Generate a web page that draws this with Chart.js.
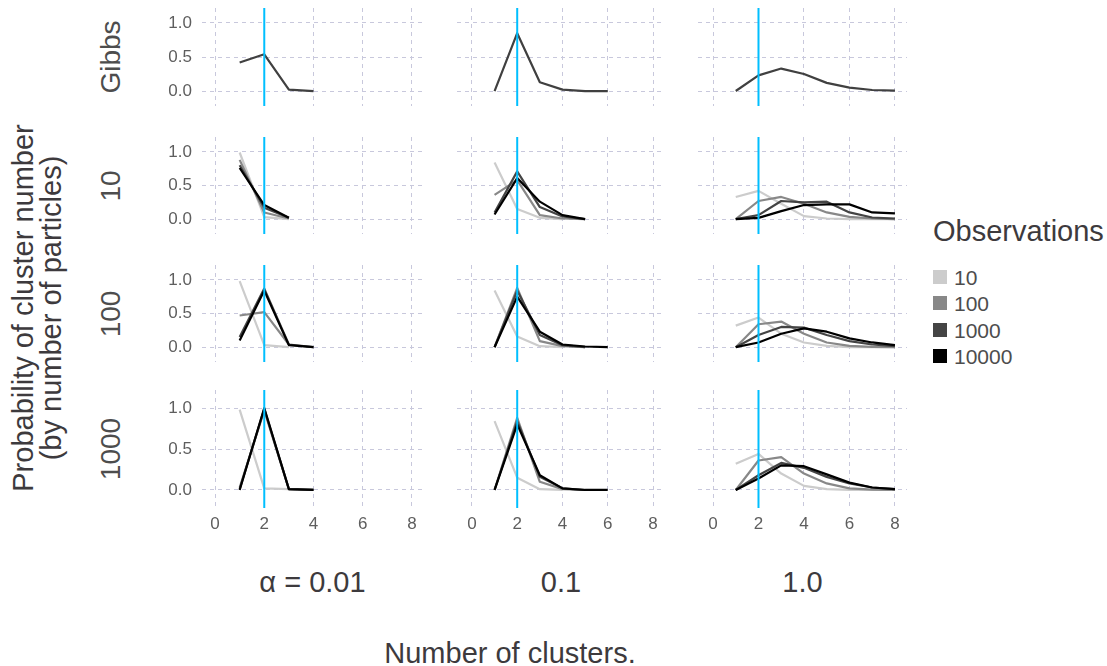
<!DOCTYPE html>
<html><head><meta charset="utf-8">
<script src="https://cdn.jsdelivr.net/npm/chart.js@4.4.0/dist/chart.umd.min.js"></script>
<style>
body{margin:0;background:#fff;}
#wrap{position:relative;width:1107px;height:666px;overflow:hidden;background:#fff;font-family:"Liberation Sans",Arial,sans-serif;}
#wrap canvas{position:absolute;}
.t{position:absolute;white-space:nowrap;line-height:1;}
</style></head><body><div id="wrap"></div>
<script>
// ---------- data ----------
const clusterCounts = [1, 2, 3, 4, 5, 6, 7, 8];
const trueClusters = 2;
const alphaLabels = ["α = 0.01", "0.1", "1.0"];
const particleLabels = ["Gibbs", "10", "100", "1000"];
const observationLabels = ["10", "100", "1000", "10000"];
const xTickValues = [0, 2, 4, 6, 8];
const yTickValues = [0, 0.5, 1.0];

// Gibbs sampler (one line per alpha)
const gibbs_a001 = [0.42, 0.54, 0.02, 0.0];
const gibbs_a01  = [0.0, 0.85, 0.13, 0.02, 0.0, 0.0];
const gibbs_a1   = [0.0, 0.23, 0.33, 0.25, 0.12, 0.05, 0.015, 0.005];

// particles = 10 ; each inner array: observations 10, 100, 1000, 10000
const p10_a001 = [[0.99, 0.03, 0.0], [0.88, 0.10, 0.01], [0.80, 0.17, 0.02], [0.76, 0.21, 0.02]];
const p10_a01  = [[0.84, 0.15, 0.02, 0.0], [0.36, 0.58, 0.06, 0.01, 0.0], [0.10, 0.71, 0.18, 0.04, 0.0], [0.07, 0.61, 0.26, 0.06, 0.0]];
const p10_a1   = [[0.33, 0.42, 0.23, 0.045, 0.01, 0.0, 0.0, 0.0], [0.0, 0.27, 0.33, 0.23, 0.10, 0.035, 0.01, 0.0], [0.0, 0.06, 0.27, 0.25, 0.26, 0.10, 0.025, 0.01], [0.0, 0.02, 0.12, 0.21, 0.22, 0.22, 0.10, 0.085]];

// particles = 100
const p100_a001 = [[0.98, 0.03, 0.0], [0.47, 0.52, 0.04], [0.15, 0.87, 0.04, 0.0], [0.10, 0.84, 0.03, 0.0]];
const p100_a01  = [[0.84, 0.16, 0.015, 0.0], [0.0, 0.88, 0.09, 0.015, 0.0], [0.0, 0.84, 0.18, 0.03, 0.0], [0.0, 0.75, 0.23, 0.04, 0.01, 0.0]];
const p100_a1   = [[0.32, 0.44, 0.20, 0.07, 0.02, 0.0, 0.0, 0.0], [0.0, 0.34, 0.38, 0.20, 0.07, 0.02, 0.005, 0.0], [0.0, 0.18, 0.30, 0.29, 0.18, 0.09, 0.04, 0.015], [0.0, 0.07, 0.20, 0.28, 0.23, 0.13, 0.07, 0.03]];

// particles = 1000
const p1000_a001 = [[0.98, 0.02, 0.01], [0.03, 0.97, 0.01, 0.0], [0.01, 0.99, 0.01, 0.0], [0.0, 1.0, 0.01, 0.0]];
const p1000_a01  = [[0.84, 0.15, 0.01, 0.0], [0.0, 0.88, 0.10, 0.01, 0.0], [0.0, 0.84, 0.16, 0.02, 0.0], [0.0, 0.80, 0.18, 0.02, 0.0, 0.0]];
const p1000_a1   = [[0.32, 0.44, 0.20, 0.05, 0.01, 0.0, 0.0, 0.0], [0.0, 0.36, 0.40, 0.20, 0.08, 0.02, 0.005, 0.0], [0.0, 0.18, 0.33, 0.27, 0.16, 0.08, 0.03, 0.01], [0.0, 0.14, 0.30, 0.29, 0.19, 0.09, 0.03, 0.01]];

// ---------- styles / layout ----------
const obsColors = ["#cccccc", "#888888", "#444444", "#000000"];
const gibbsColor = "#404040";
const vlineColor = "#00bfff";
const gridColor = "#c8c8dc";
const tickColor = "#5e5e5e";
const stripColor = "#4d4d4d";
const titleColor = "#3d3a3d";
const FONT = '"Liberation Sans", Arial, sans-serif';

const colLayout = [
  {left: 202, right: 423, min: -0.53, max: 8.45},
  {left: 457, right: 665, min: -0.66, max: 8.53},
  {left: 698, right: 907, min: -0.66, max: 8.53}
];
const rowLayout = [
  {top: 8, bottom: 106},
  {top: 137, bottom: 234},
  {top: 265, bottom: 362},
  {top: 390, bottom: 508}
];
const yMin = -0.22, yMax = 1.22;

const panelData = [
  [[gibbs_a001], [gibbs_a01], [gibbs_a1]],
  [p10_a001, p10_a01, p10_a1],
  [p100_a001, p100_a01, p100_a1],
  [p1000_a001, p1000_a01, p1000_a1]
];

const wrap = document.getElementById('wrap');

function toPoints(arr) { return arr.map((v, i) => ({x: clusterCounts[i], y: v})); }

function makePanel(r, c) {
  const col = colLayout[c], row = rowLayout[r];
  const padL = c === 0 ? 52 : 0;
  const padB = r === 3 ? 32 : 0;
  const w = col.right - col.left + padL, h = row.bottom - row.top + padB;
  const cv = document.createElement('canvas');
  cv.width = w; cv.height = h;
  cv.style.left = (col.left - padL) + 'px';
  cv.style.top = row.top + 'px';
  cv.style.width = w + 'px'; cv.style.height = h + 'px';
  wrap.appendChild(cv);

  const series = panelData[r][c];
  const datasets = [];
  datasets.push({
    data: [{x: trueClusters, y: -10}, {x: trueClusters, y: 10}],
    borderColor: vlineColor, borderWidth: 2, pointRadius: 0, order: 0, clip: 0
  });
  if (r === 0) {
    datasets.push({data: toPoints(series[0]), borderColor: gibbsColor, borderWidth: 2.2, pointRadius: 0, order: 1});
  } else {
    series.forEach((s, k) => {
      datasets.push({data: toPoints(s), borderColor: obsColors[k], borderWidth: 2.2, pointRadius: 0, order: 5 - k});
    });
  }

  new Chart(cv, {
    type: 'line',
    data: {datasets},
    options: {
      responsive: false, animation: false, devicePixelRatio: 1,
      layout: {padding: 0},
      plugins: {legend: {display: false}, tooltip: {enabled: false}},
      elements: {point: {radius: 0}, line: {tension: 0, borderCapStyle: 'butt', borderJoinStyle: 'round'}},
      scales: {
        x: {
          type: 'linear', min: col.min, max: col.max,
          afterBuildTicks: s => { s.ticks = xTickValues.map(v => ({value: v})); },
          afterFit: s => { s.height = padB; s.paddingLeft = 0; s.paddingRight = 0; s.paddingTop = 0; s.paddingBottom = 0; },
          grid: {color: gridColor, lineWidth: 1, drawTicks: false},
          border: {display: false, dash: [4, 4]},
          ticks: {display: r === 3, color: tickColor, font: {family: FONT, size: 17}, padding: 6,
                  maxRotation: 0, autoSkip: false, callback: v => String(v)}
        },
        y: {
          type: 'linear', min: yMin, max: yMax,
          afterBuildTicks: s => { s.ticks = yTickValues.map(v => ({value: v})); },
          afterFit: s => { s.width = padL; s.paddingLeft = 0; s.paddingRight = 0; s.paddingTop = 0; s.paddingBottom = 0; },
          grid: {color: gridColor, lineWidth: 1, drawTicks: false},
          border: {display: false, dash: [4, 4]},
          ticks: {display: c === 0, color: tickColor, font: {family: FONT, size: 17}, padding: 10,
                  autoSkip: false, callback: v => v.toFixed(1)}
        }
      }
    }
  });
}

for (let r = 0; r < 4; r++) for (let c = 0; c < 3; c++) makePanel(r, c);

// ---------- text ----------
function addText(txt, x, y, size, color, rotate, align) {
  const d = document.createElement('div');
  d.className = 't';
  d.textContent = txt;
  d.style.left = x + 'px'; d.style.top = y + 'px';
  d.style.fontSize = size + 'px'; d.style.color = color;
  const tx = align === 'left' ? '0' : '-50%';
  d.style.transform = `translate(${tx},-50%)` + (rotate ? ' rotate(-90deg)' : '');
  wrap.appendChild(d);
  return d;
}

// row strip labels
particleLabels.forEach((lab, r) => {
  const row = rowLayout[r];
  addText(lab, 111, (row.top + row.bottom) / 2, 28, stripColor, true);
});
// column labels
alphaLabels.forEach((lab, c) => {
  const col = colLayout[c];
  addText(lab, (col.left + col.right) / 2, 582, 29, titleColor, false);
});
// axis titles
addText("Number of clusters.", 510, 653, 29, titleColor, false);
addText("Probability of cluster number", 23, 308, 29, titleColor, true);
addText("(by number of particles)", 51, 308, 29, titleColor, true);

// legend
addText("Observations", 933, 231, 29, titleColor, false, 'left');
const legendY = [277, 303, 330, 356];
observationLabels.forEach((lab, k) => {
  const sq = document.createElement('div');
  sq.style.position = 'absolute';
  sq.style.left = '933px'; sq.style.top = (legendY[k] - 7) + 'px';
  sq.style.width = '14px'; sq.style.height = '14px';
  sq.style.background = obsColors[k];
  wrap.appendChild(sq);
  addText(lab, 954, legendY[k], 21, stripColor, false, 'left');
});
</script></body></html>
